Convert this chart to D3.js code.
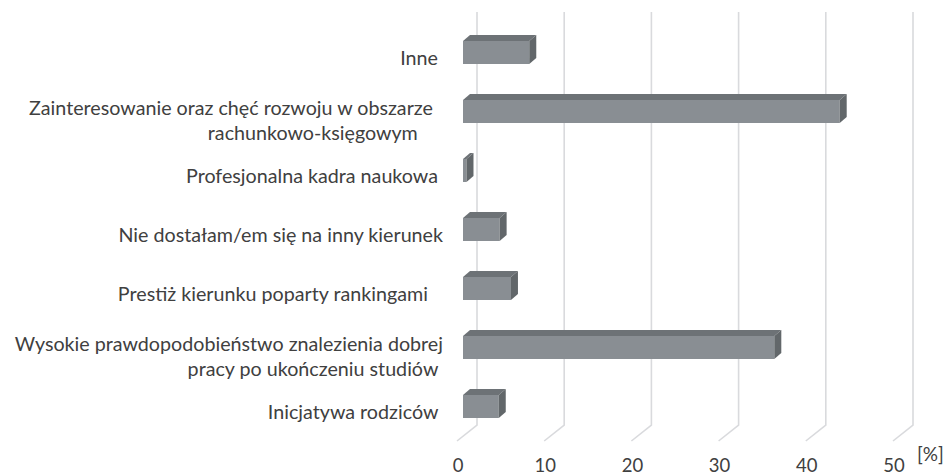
<!DOCTYPE html>
<html>
<head>
<meta charset="utf-8">
<script src="https://cdnjs.cloudflare.com/ajax/libs/d3/7.8.5/d3.min.js"></script>
<style>
  html, body { margin: 0; padding: 0; background: #fff; }
  svg { display: block; }
  text { font-family: Lato, "Open Sans", sans-serif; fill: #404040; white-space: pre; }
</style>
</head>
<body>
<div id="chart"></div>
<script>
// categories, top to bottom (each entry = lines of the label, trailing spaces as in the original)
const categories = [
    ['Inne '],
    ['Zainteresowanie oraz chęć rozwoju w obszarze  ', 'rachunkowo-księgowym     '],
    ['Profesjonalna kadra naukowa '],
    ['Nie dostałam/em się na inny kierunek'],
    ['Prestiż kierunku poparty rankingami   '],
    ['Wysokie prawdopodobieństwo znalezienia dobrej', 'pracy po ukończeniu studiów '],
    ['Inicjatywa rodziców ']
];
const values = [7.6, 43.2, 0.4, 4.2, 5.5, 35.7, 4.1];
const ticks = [0, 10, 20, 30, 40, 50];
const unitLabel = '[%]';

const width = 949, height = 475;
const labelSize = 19.7;
const tickSize = 18.5;

// 3d look: floor depth and bar depth offsets
const floor = { dx: -20, dy: 16 };
const barShift = -14;          // bar front plane relative to back wall
const depth = { dx: 7, dy: -6 };
const barH = 23;

const svg = d3.select('#chart').append('svg')
    .attr('width', width)
    .attr('height', height);

const x = d3.scaleLinear().domain([0, 50]).range([477, 913]);
const y = d3.scalePoint()
    .domain(d3.range(categories.length))
    .range([52.5, 406.5]);

const gridTop = 12, gridBottom = 425;

// back wall gridlines + floor diagonals
const grid = svg.append('g')
    .attr('fill', 'none')
    .attr('stroke', '#d9dadd')
    .attr('stroke-width', 1.6);

grid.selectAll('path')
    .data(ticks)
    .enter()
    .append('path')
    .attr('d', t => `M${x(t)},${gridTop}V${gridBottom}l${floor.dx},${floor.dy}`);

// tick labels
svg.append('g').selectAll('text')
    .data(ticks)
    .enter()
    .append('text')
    .attr('x', t => x(t) + floor.dx + 1)
    .attr('y', 472)
    .attr('text-anchor', 'middle')
    .attr('font-size', tickSize)
    .text(t => t);

svg.append('text')
    .attr('x', 917)
    .attr('y', 461)
    .attr('font-size', 19)
    .text(unitLabel);

// bars
const bars = svg.append('g').selectAll('g')
    .data(values)
    .enter()
    .append('g');

bars.each(function(v, i) {
    const g = d3.select(this);
    const x0 = x(0) + barShift;
    const x1 = x(v) + barShift;
    const top = y(i) - barH / 2;
    const bottom = y(i) + barH / 2;

    // top face
    g.append('path')
        .attr('d', `M${x0},${top}L${x1},${top}L${x1 + depth.dx},${top + depth.dy}L${x0 + depth.dx},${top + depth.dy}Z`)
        .attr('fill', '#6d7276');
    // front face
    g.append('rect')
        .attr('x', x0)
        .attr('y', top)
        .attr('width', Math.max(0, x1 - x0))
        .attr('height', barH)
        .attr('fill', '#898e93');
    // side face
    g.append('path')
        .attr('d', `M${x1},${top}L${x1 + depth.dx},${top + depth.dy}L${x1 + depth.dx},${bottom + depth.dy}L${x1},${bottom}Z`)
        .attr('fill', '#62676a');
});

// category labels
const labelX = 443;
const labels = svg.append('g').selectAll('text')
    .data(categories)
    .enter()
    .append('text')
    .attr('text-anchor', 'end')
    .attr('font-size', labelSize);

labels.each(function(lines, i) {
    const t = d3.select(this);
    const c = y(i);
    const first = lines.length === 1 ? c + 12.5 : c + 3;
    lines.forEach((line, k) => {
        t.append('tspan')
            .attr('x', labelX)
            .attr('y', first + k * 25)
            .text(line);
    });
});
</script>
</body>
</html>
